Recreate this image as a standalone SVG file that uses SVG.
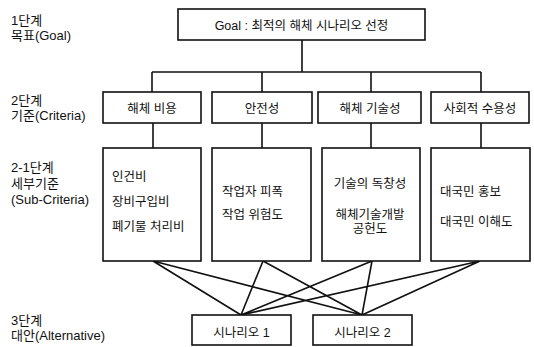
<svg xmlns="http://www.w3.org/2000/svg" width="534" height="347" viewBox="0 0 534 347">
<style>
.box{fill:#fff;stroke:#111;stroke-width:1.6}
.ln{stroke:#111;stroke-width:1.6;fill:none}
.lab{font-family:"Liberation Sans","Noto Sans CJK KR",sans-serif;font-size:13px;fill:#111}
.t{font-family:"Liberation Sans","Noto Sans CJK KR",sans-serif;font-size:12.5px;fill:#111}
.c{text-anchor:middle}
</style>
<rect width="534" height="347" fill="#fff"/>
<g id="levels">
<text class="lab" x="11" y="25">1단계</text>
<text class="lab" x="11" y="40">목표(Goal)</text>
<text class="lab" x="11" y="105">2단계</text>
<text class="lab" x="11" y="120">기준(Criteria)</text>
<text class="lab" x="11" y="172">2-1단계</text>
<text class="lab" x="11" y="188">세부기준</text>
<text class="lab" x="11" y="204">(Sub-Criteria)</text>
<text class="lab" x="11" y="325">3단계</text>
<text class="lab" x="11" y="340">대안(Alternative)</text>
</g>
<g id="connectors">
<path class="ln" d="M302 40V72M152 72H481M152 72V92M262 72V92M371 72V92M481 72V92"/>
<path class="ln" d="M153 123V148M262 123V148M371 123V148M481 123V148"/>
<path class="ln" d="M153 261L241 315M263 261L241 315M372 261L241 315M480 261L241 315M153 261L362 315M263 261L362 315M372 261L362 315M480 261L362 315"/>
</g>
<g id="goal">
<rect class="box" x="178" y="9" width="247" height="31"/>
<text class="t c" x="301.5" y="30">Goal : 최적의 해체 시나리오 선정</text>
</g>
<g id="c1"><rect class="box" x="103" y="92" width="98" height="31"/><text class="t c" x="152" y="113">해체 비용</text></g>
<g id="c2"><rect class="box" x="212" y="92" width="100" height="31"/><text class="t c" x="262" y="113">안전성</text></g>
<g id="c3"><rect class="box" x="318" y="92" width="103" height="31"/><text class="t c" x="370" y="113">해체 기술성</text></g>
<g id="c4"><rect class="box" x="431" y="92" width="98" height="31"/><text class="t c" x="480" y="113">사회적 수용성</text></g>
<g id="s1"><rect class="box" x="103" y="148" width="98" height="113"/>
<text class="t" x="112" y="181">인건비</text>
<text class="t" x="112" y="206">장비구입비</text>
<text class="t" x="112" y="231">폐기물 처리비</text></g>
<g id="s2"><rect class="box" x="212" y="148" width="99" height="113"/>
<text class="t" x="222" y="196">작업자 피폭</text>
<text class="t" x="222" y="219">작업 위험도</text></g>
<g id="s3"><rect class="box" x="322" y="148" width="98" height="113"/>
<text class="t c" x="370" y="188">기술의 독창성</text>
<text class="t c" x="370" y="219">해체기술개발</text>
<text class="t c" x="370" y="233">공헌도</text></g>
<g id="s4"><rect class="box" x="431" y="148" width="99" height="113"/>
<text class="t" x="440" y="196">대국민 홍보</text>
<text class="t" x="440" y="226">대국민 이해도</text></g>
<g id="a1"><rect class="box" x="192" y="315" width="99" height="30"/><text class="t c" x="241.5" y="337">시나리오 1</text></g>
<g id="a2"><rect class="box" x="313" y="315" width="99" height="30"/><text class="t c" x="362.5" y="337">시나리오 2</text></g>
</svg>
